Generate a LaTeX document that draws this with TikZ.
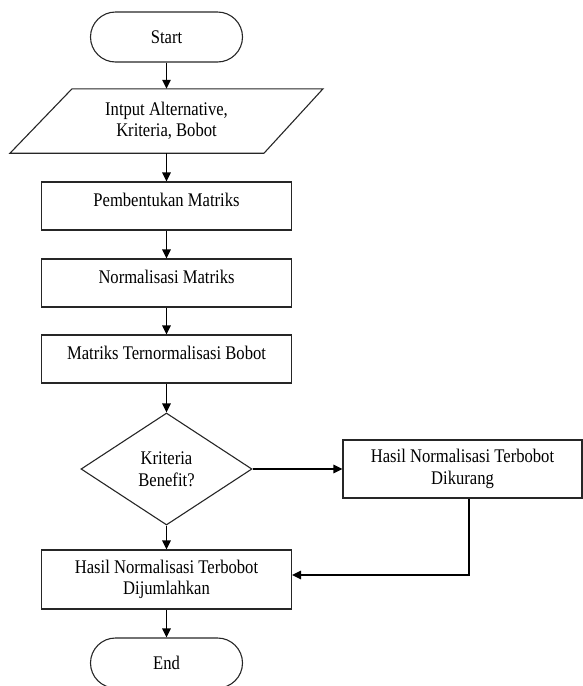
\documentclass[tikz,border=0pt]{standalone}
\usepackage{fontspec}
\setmainfont{Liberation Serif}[FakeStretch=0.86]
\usetikzlibrary{shapes.geometric,arrows.meta,calc}
\begin{document}
\begin{tikzpicture}[x=1pt,y=-1pt,
  every node/.style={font=\fontsize{19.3}{21.5}\selectfont, align=center, inner sep=0pt},
  shapeline/.style={draw=black!85, line width=1.1pt},
  term/.style={shapeline, rectangle, rounded corners=25pt, minimum width=152pt, minimum height=50pt},
  stepbox/.style={shapeline, rectangle, minimum width=250pt, minimum height=48pt, text height=13pt, text depth=13pt},
  twobox/.style={shapeline, rectangle, minimum width=250pt, minimum height=59pt},
  decide/.style={shapeline, diamond, aspect=1.527, minimum width=171pt, minimum height=112pt},
  arr/.style={line width=1.4pt, -{Triangle[length=9pt,width=8.5pt]}}]
\useasboundingbox (0,0) rectangle (583,686);
\node[term] (start) at (166.5,37) {Start};
\node[minimum width=251pt, minimum height=64pt] (inp) at (166.5,121) {Intput Alternative,\\Kriteria, Bobot};
\draw[shapeline] ([xshift=-156.5pt]inp.south) -- ([xshift=-94.5pt]inp.north) -- ([xshift=156.5pt]inp.north) -- ([xshift=97.5pt]inp.south) -- cycle;
\node[stepbox] (b1) at (166.5,206) {Pembentukan Matriks};
\node[stepbox] (b2) at (166.5,283) {Normalisasi Matriks};
\node[stepbox] (b3) at (166.5,359) {Matriks Ternormalisasi Bobot};
\node[decide] (dec) at (166.5,469) {Kriteria\\Benefit?};
\node[shapeline, rectangle, minimum width=239pt, minimum height=58pt] (r) at (462.5,469) {Hasil Normalisasi Terbobot\\Dikurang};
\node[twobox] (b4) at (166.5,579.5) {Hasil Normalisasi Terbobot\\Dijumlahkan};
\node[term] (end) at (166.5,663) {End};
\coordinate (c1) at (469,575);
\draw[arr] (start.south) -- (inp.north);
\draw[arr] (inp.south) -- (b1.north);
\draw[arr] (b1.south) -- (b2.north);
\draw[arr] (b2.south) -- (b3.north);
\draw[arr] (b3.south) -- (dec.north);
\draw[arr] (dec.east) -- (r.west);
\draw[arr] (dec.south) -- (b4.north);
\draw[arr] (r.south -| c1) |- (b4.east |- c1);
\draw[arr] (b4.south) -- (end.north);
\end{tikzpicture}
\end{document}
